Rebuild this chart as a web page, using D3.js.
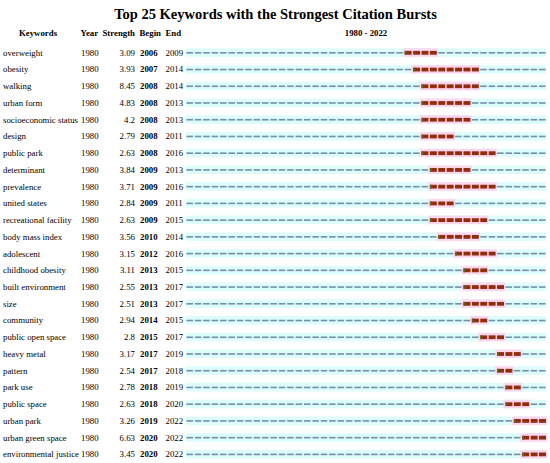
<!DOCTYPE html>
<html><head><meta charset="utf-8">
<script src="https://cdn.jsdelivr.net/npm/d3@7/dist/d3.min.js"></script>
<style>
html,body{margin:0;padding:0;background:#fff;}
svg{display:block;}
svg text{font-family:"Liberation Serif","Times New Roman",serif;}
</style></head>
<body>
<svg id="chart" width="550" height="463"></svg>
<script>
const keywords = ["overweight","obesity","walking","urban form","socioeconomic status","design","public park","determinant","prevalence","united states","recreational facility","body mass index","adolescent","childhood obesity","built environment","size","community","public open space","heavy metal","pattern","park use","public space","urban park","urban green space","environmental justice"];
const yearStart = [1980,1980,1980,1980,1980,1980,1980,1980,1980,1980,1980,1980,1980,1980,1980,1980,1980,1980,1980,1980,1980,1980,1980,1980,1980];
const strength = ["3.09","3.93","8.45","4.83","4.2","2.79","2.63","3.84","3.71","2.84","2.63","3.56","3.15","3.11","2.55","2.51","2.94","2.8","3.17","2.54","2.78","2.63","3.26","6.63","3.45"];
const begin = [2006,2007,2008,2008,2008,2008,2008,2009,2009,2009,2009,2010,2012,2013,2013,2013,2014,2015,2017,2017,2018,2018,2019,2020,2020];
const end = [2009,2014,2014,2013,2013,2011,2016,2013,2016,2011,2015,2014,2016,2015,2017,2017,2015,2017,2019,2018,2019,2020,2022,2022,2022];
const headers = ["Keywords","Year","Strength","Begin","End"];
const titleText = "Top 25 Keywords with the Strongest Citation Bursts";
const rangeLabel = "1980 - 2022";
const firstYear = 1980, lastYear = 2022;

const years = d3.range(firstYear, lastYear + 1);
const svg = d3.select("#chart");
const FONT = "'Liberation Serif','Times New Roman',serif";

const x = d3.scaleBand().domain(years).range([186, 546]).paddingInner(0.22).paddingOuter(0.05);
const xEdge = d3.scaleLinear().domain([firstYear, lastYear + 1]).range([186, 546]);
const y = d3.scalePoint().domain(keywords).range([52.7, 454.3]);

svg.append("text").attr("x", 275.5).attr("y", 19).attr("text-anchor", "middle")
  .attr("font-family", FONT).attr("font-weight", "bold").attr("font-size", 14.5).attr("fill", "#000").text(titleText);

const hy = 36;
const hdr = svg.append("g").attr("font-family", FONT).attr("font-weight", "bold").attr("font-size", 8.8).attr("fill", "#000");
hdr.append("text").attr("x", 38).attr("y", hy).attr("text-anchor", "middle").text(headers[0]);
hdr.append("text").attr("x", 80.5).attr("y", hy).text(headers[1]);
hdr.append("text").attr("x", 135).attr("y", hy).attr("text-anchor", "end").text(headers[2]);
hdr.append("text").attr("x", 139.5).attr("y", hy).text(headers[3]);
hdr.append("text").attr("x", 165.5).attr("y", hy).text(headers[4]);
hdr.append("text").attr("x", 366).attr("y", hy).attr("text-anchor", "middle").text(rangeLabel);

const rows = svg.selectAll("g.row").data(keywords.map((k, i) => ({
  k, year: yearStart[i], s: strength[i], b: begin[i], e: end[i]
}))).join("g").attr("class", "row")
  .attr("transform", d => `translate(0,${y(d.k)})`);

rows.append("rect").attr("x", xEdge(firstYear)).attr("y", -4.4)
  .attr("width", xEdge(lastYear + 1) - xEdge(firstYear)).attr("height", 8.6).attr("fill", "#defdfd");
rows.append("rect").attr("x", d => xEdge(d.b) - 0.5).attr("y", -4.4)
  .attr("width", d => xEdge(d.e + 1) - xEdge(d.b) + 1.5).attr("height", 8.6).attr("fill", "#fdd6ee");

rows.each(function(d) {
  const g = d3.select(this);
  g.selectAll("rect.dash").data(years.filter(yr => yr < d.b || yr > d.e)).join("rect")
    .attr("class", "dash").attr("x", yr => x(yr)).attr("y", -0.7)
    .attr("width", x.bandwidth()).attr("height", 1.6).attr("fill", "#7290ae");
  g.selectAll("rect.burst").data(years.filter(yr => yr >= d.b && yr <= d.e)).join("rect")
    .attr("class", "burst").attr("x", yr => x(yr)).attr("y", -1.8)
    .attr("width", x.bandwidth() + 0.4).attr("height", 3.8).attr("fill", "#922c0c");
  g.append("rect").attr("x", x(d.b)).attr("y", -1.8).attr("width", 1.8).attr("height", 3.8).attr("fill", "#4f6a2a");
});

const tg = rows.append("g").attr("font-family", FONT).attr("font-size", 8.8).attr("fill", "#000");
tg.append("text").attr("x", 3).attr("y", 3).text(d => d.k);
tg.append("text").attr("x", 81).attr("y", 3).text(d => d.year);
tg.append("text").attr("x", 135).attr("y", 3).attr("text-anchor", "end").text(d => d.s);
tg.append("text").attr("x", 140).attr("y", 3).attr("font-weight", "bold").text(d => d.b);
tg.append("text").attr("x", 165.5).attr("y", 3).text(d => d.e);
</script>
</body></html>
